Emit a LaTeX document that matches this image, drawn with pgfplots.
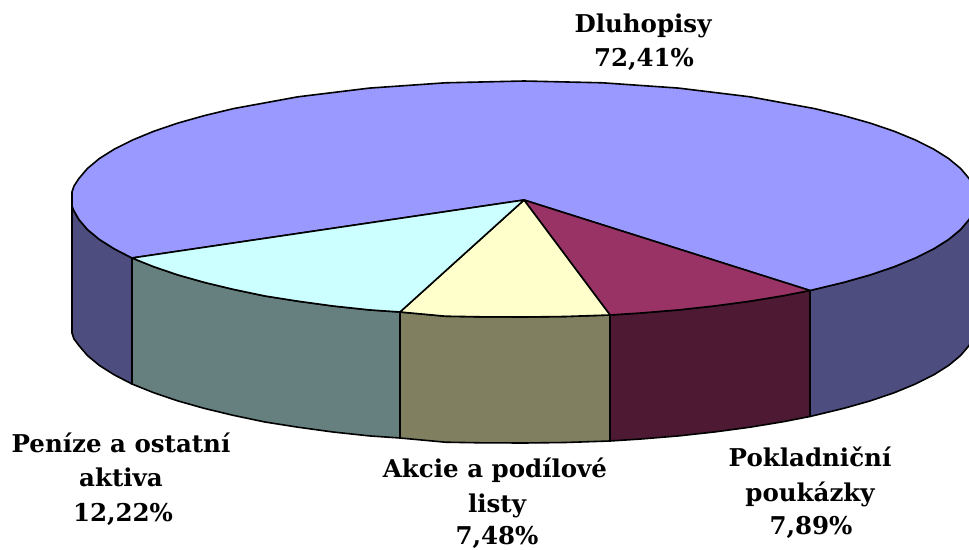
\documentclass[border=0pt]{standalone}
\usepackage{fontspec}
\setmainfont{DejaVu Serif}[BoldFont={DejaVu Serif Bold}]
\usepackage{pgfplots}
\pgfplotsset{compat=1.18}
\definecolor{topblue}{HTML}{9999FF}
\definecolor{topmaroon}{HTML}{993366}
\definecolor{topyellow}{HTML}{FFFFCC}
\definecolor{topcyan}{HTML}{CCFFFF}
\definecolor{wallblue}{HTML}{4D4D80}
\definecolor{wallmaroon}{HTML}{4D1933}
\definecolor{wallolive}{HTML}{808060}
\definecolor{wallteal}{HTML}{668080}
\tikzset{lbl/.style={font=\fontsize{24.5}{24.5}\selectfont\bfseries, text=black, inner sep=0pt, anchor=base}}
\begin{document}
\begin{tikzpicture}
\path[use as bounding box] (0,0) rectangle (969pt,549pt);
\begin{axis}[
  at={(0,0)}, anchor=south west,
  scale only axis, width=969pt, height=549pt,
  xmin=0, xmax=969, ymin=0, ymax=549, y dir=reverse,
  axis lines=none, clip=true,
  every axis plot/.append style={draw=black, line width=1.6pt, line join=round, mark=none},
]
% side walls
\addplot[fill=wallblue] coordinates {(976,199)(974.3,209.3)(969.1,219.5)(960.6,229.5)(948.7,239.4)(933.6,248.9)(915.4,258)(894.3,266.7)(870.2,274.9)(843.6,282.4)(810,290.5)(810,416.5)(843.6,408.4)(870.2,400.9)(894.3,392.7)(915.4,384)(933.6,374.9)(948.7,365.4)(960.6,355.5)(969.1,345.5)(974.3,335.3)(976,325)} --cycle;
\addplot[fill=wallmaroon] coordinates {(810,290.5)(783.3,295.7)(750,301.2)(715,305.9)(678.6,309.9)(641,313)(610,315)(610,441)(641,439)(678.6,435.9)(715,431.9)(750,427.2)(783.3,421.7)(810,416.5)} --cycle;
\addplot[fill=wallolive] coordinates {(610,315)(565,316.5)(524,317)(480,316.8)(445.5,316.2)(400,312)(400,438)(445.5,442.2)(480,442.8)(524,443)(565,442.5)(610,441)} --cycle;
\addplot[fill=wallteal] coordinates {(400,312)(369.4,309.9)(333,306)(298,301.2)(265,296)(233.5,289.4)(204.4,282.4)(177.8,274.9)(153.7,266.7)(132,258)(132,384)(153.7,392.7)(177.8,400.9)(204.4,408.4)(233.5,415.4)(265,422)(298,427.2)(333,432)(369.4,435.9)(400,438)} --cycle;
\addplot[fill=wallblue] coordinates {(132,258)(114.4,248.9)(99.3,239.4)(87.4,229.5)(78.9,219.5)(73.5,210)(72,206)(72,333)(74,339)(78.9,345.5)(87.4,355.5)(99.3,365.4)(114.4,374.9)(132,384)} --cycle;
% top face
\addplot[fill=topblue] coordinates {(524,200)(132,258)(114.4,248.9)(99.3,239.4)(87.4,229.5)(78.9,219.5)(73.5,210)(72,206)(72,192)(74,186)(78.9,178.5)(87.4,168.5)(99.3,158.6)(114.4,149.1)(132.6,140)(153.7,131.3)(177.8,123.1)(204.4,115.6)(233.5,108.6)(298,96.8)(369.4,88.1)(445.5,82.8)(524,81)(602.5,82.8)(678.6,88.1)(750,96.8)(814.5,108.6)(843.6,115.6)(870.2,123.1)(894.3,131.3)(915.4,140)(933.6,149.1)(948.7,158.6)(960.6,168.5)(969.1,178.5)(974.3,188.7)(976,199)(974.3,209.3)(969.1,219.5)(960.6,229.5)(948.7,239.4)(933.6,248.9)(915.4,258)(894.3,266.7)(870.2,274.9)(843.6,282.4)(810,290.5)} --cycle;
\addplot[fill=topmaroon] coordinates {(524,200)(810,290.5)(783.3,295.7)(750,301.2)(715,305.9)(678.6,309.9)(641,313)(610,315)} --cycle;
\addplot[fill=topyellow] coordinates {(524,200)(610,315)(565,316.5)(524,317)(480,316.8)(445.5,316.2)(400,312)} --cycle;
\addplot[fill=topcyan] coordinates {(524,200)(400,312)(369.4,309.9)(333,306)(298,301.2)(265,296)(233.5,289.4)(204.4,282.4)(177.8,274.9)(153.7,266.7)(132,258)} --cycle;
% labels
\node[lbl] at (axis cs:643,32) {Dluhopisy};
\node[lbl] at (axis cs:644,66) {72,41\%};
\node[lbl] at (axis cs:121,452) {Peníze a ostatní};
\node[lbl] at (axis cs:121,486) {aktiva};
\node[lbl] at (axis cs:123,521) {12,22\%};
\node[lbl] at (axis cs:495,477) {Akcie a podílové};
\node[lbl] at (axis cs:497,512) {listy};
\node[lbl] at (axis cs:497,544) {7,48\%};
\node[lbl] at (axis cs:810,466) {Pokladniční};
\node[lbl] at (axis cs:810,501) {poukázky};
\node[lbl] at (axis cs:811,534) {7,89\%};
\end{axis}
\end{tikzpicture}
\end{document}
